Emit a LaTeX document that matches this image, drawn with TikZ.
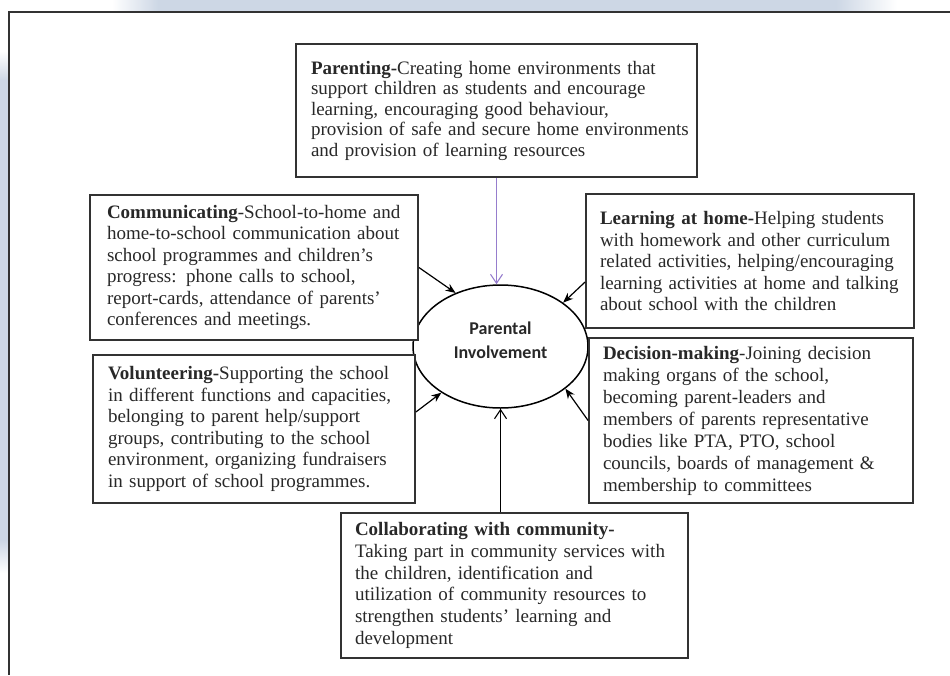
\documentclass[tikz,border=0pt]{standalone}
\usepackage{fontspec}
\setmainfont{Liberation Serif}
\newfontfamily\calib{Carlito}
\usetikzlibrary{shapes.geometric,arrows.meta}
\definecolor{bandc}{RGB}{205,215,229}
\definecolor{txt}{RGB}{40,40,40}
\definecolor{edge}{RGB}{50,50,50}
\definecolor{purp}{RGB}{150,125,205}
\begin{document}
\begin{tikzpicture}[x=1pt,y=-1pt,
  box/.style={draw=edge, line width=1.8pt, fill=white, rectangle, inner ysep=0pt,
    align=left, text=txt, font=\fontsize{19}{21.5}\selectfont},
  arr/.style={-{Stealth[length=10pt,width=8pt]}, line width=1.2pt, black},
  oarr/.style={-{Straight Barb[length=9pt,width=12pt]}, line width=1.1pt}]
\useasboundingbox (0,0) rectangle (950,675);
% background decoration
\fill[bandc] (158,0) rectangle (836,11);
\shade[left color=white, right color=bandc] (112,0) rectangle (158,11);
\shade[left color=bandc, right color=white] (836,0) rectangle (897,11);
\fill[bandc] (0,80) rectangle (8,540);
\shade[top color=white, bottom color=bandc] (0,51) rectangle (8,80);
\shade[top color=bandc, bottom color=white] (0,540) rectangle (8,573);
\draw[line width=1.4pt, edge] (950,12) -- (9,12) -- (9,675);
% central ellipse
\node[draw, ellipse, line width=1.5pt, minimum width=175pt, minimum height=123pt,
  inner sep=0pt, font=\calib\bfseries\fontsize{18}{24}\selectfont, align=center, text=txt]
  (pi) at (500.5,346.5) {Parental\\Involvement\rule[-12pt]{0pt}{12pt}};
% boxes
\node[box, inner xsep=15pt, minimum width=401pt, minimum height=133pt, text width=371pt,
  font=\fontsize{19}{20.5}\selectfont] (par) at (496.5,110.5)
 {\mbox{\textbf{Parenting-}Creating home environments that}\\
  \mbox{support children as students and encourage}\\
  \mbox{learning, encouraging good behaviour,}\\
  \mbox{provision of safe and secure home environments}\\
  \mbox{and provision of learning resources}};
\node[box, inner xsep=17pt, minimum width=328pt, minimum height=145pt, text width=294pt]
  (comm) at (254,267.5)
 {\textbf{Communicating}-School-to-home and\\
  home-to-school communication about\\
  school programmes and children’s\\
  progress: phone calls to school,\\
  report-cards, attendance of parents’\\
  conferences and meetings.};
\node[box, inner xsep=14pt, minimum width=328pt, minimum height=134pt, text width=300pt]
  (learn) at (750,261)
 {\textbf{Learning at home-}Helping students\\
  with homework and other curriculum\\
  related activities, helping/encouraging\\
  learning activities at home and talking\\
  about school with the children};
\node[box, inner xsep=15pt, minimum width=322pt, minimum height=148pt, text width=292pt]
  (vol) at (254,429)
 {\textbf{Volunteering-}Supporting the school\\
  in different functions and capacities,\\
  belonging to parent help/support\\
  groups, contributing to the school\\
  environment, organizing fundraisers\\
  in support of school programmes.};
\node[box, inner xsep=14pt, minimum width=324pt, minimum height=165pt, text width=296pt,
  font=\fontsize{19}{22}\selectfont] (dec) at (751,420.5)
 {\textbf{Decision-making}-Joining decision\\
  making organs of the school,\\
  becoming parent-leaders and\\
  members of parents representative\\
  bodies like PTA, PTO, school\\
  councils, boards of management \&\\
  membership to committees};
\node[box, inner xsep=14pt, minimum width=347pt, minimum height=145pt, text width=319pt,
  font=\fontsize{19}{21.8}\selectfont] (collab) at (514.5,585.5)
 {\textbf{Collaborating with community-}\\
  Taking part in community services with\\
  the children, identification and\\
  utilization of community resources to\\
  strengthen students’ learning and\\
  development};
% connectors
\draw[oarr, purp] (par.south) -- (par.south |- pi.north);
\draw[arr] (comm.east) -- (pi.130);
\draw[arr] ([yshift=-21pt]learn.west) -- (pi.35);
\draw[arr] ([yshift=17pt]vol.east) -- (pi.218);
\draw[arr] (dec.west) -- (pi.-33);
\draw[oarr, black] (collab.north -| pi.south) -- (pi.south);
\end{tikzpicture}
\end{document}
